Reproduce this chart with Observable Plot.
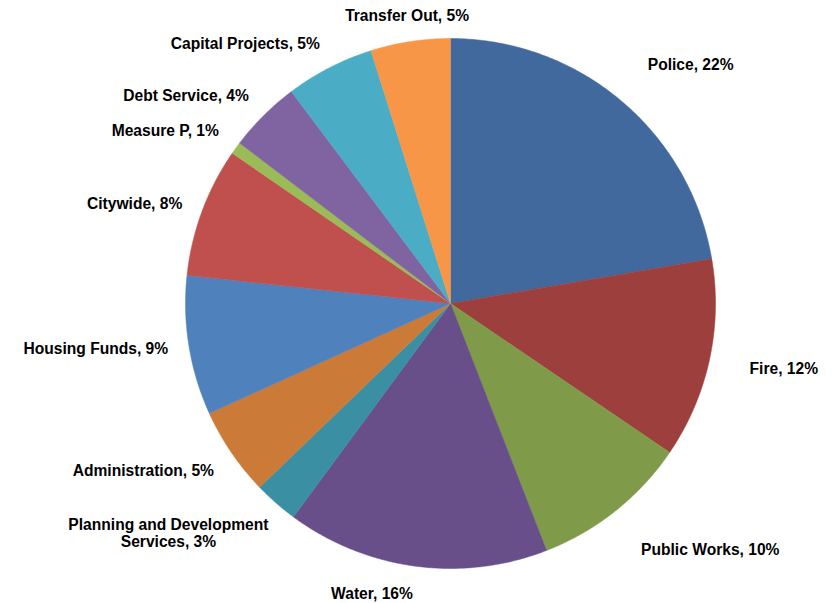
<!DOCTYPE html>
<html>
<head>
<meta charset="utf-8">
<script src="https://cdn.jsdelivr.net/npm/d3@7"></script>
<script src="https://cdn.jsdelivr.net/npm/@observablehq/plot@0.6"></script>
<style>
  html, body { margin: 0; padding: 0; background: #ffffff; overflow: hidden; }
  #chart svg { display: block; }
</style>
</head>
<body>
<div id="chart"></div>
<script>
// ---- Data ----
const categories = [
  "Police", "Fire", "Public Works", "Water",
  "Planning and Development Services", "Administration", "Housing Funds",
  "Citywide", "Measure P", "Debt Service", "Capital Projects", "Transfer Out"
];
const shares = [22.3, 12.2, 9.6, 16.0, 2.7, 5.4, 8.5, 7.9, 0.75, 4.4, 5.4, 4.85];
const colors = [
  "#41699d", "#9d403d", "#7f9b49", "#684f89",
  "#3a8fa2", "#cc7a37", "#4f81bd", "#c0504d",
  "#9bbb59", "#8064a2", "#4bacc6", "#f79646"
];

// ---- Layout constants ----
const W = 832, H = 603;
const cx = 450, cy = 303, r = 265;
const fontSize = 15.6;
const labelRadiusRight = 306, labelRadiusLeft = 286;

const total = d3.sum(shares);
const arcs = d3.pie().sort(null).value(d => d)(shares);

// polygon outline of each slice, in units of the radius
const slicePts = [];
arcs.forEach((a, i) => {
  const cat = categories[i];
  slicePts.push({cat, x: 0, y: 0});
  const n = Math.max(2, Math.ceil((a.endAngle - a.startAngle) / (Math.PI / 360)));
  for (let k = 0; k <= n; k++) {
    const t = a.startAngle + (a.endAngle - a.startAngle) * k / n;
    slicePts.push({cat, x: Math.sin(t), y: Math.cos(t)});
  }
  slicePts.push({cat, x: 0, y: 0});
});

function wrap(text, maxChars) {
  if (text.length <= maxChars) return text;
  const words = text.split(" ");
  const lines = [];
  let cur = "";
  for (const w of words) {
    if (cur && (cur + " " + w).length > maxChars) { lines.push(cur); cur = w; }
    else cur = cur ? cur + " " + w : w;
  }
  if (cur) lines.push(cur);
  return lines.join("\n");
}

const labels = arcs.map((a, i) => {
  const m = (a.startAngle + a.endAngle) / 2;
  const s = Math.sin(m), c = Math.cos(m);
  const R = (s > 0 ? labelRadiusRight : labelRadiusLeft) / r;
  const pct = Math.round(+(shares[i] / total * 100).toFixed(6));
  const text = wrap(`${categories[i]}, ${pct}%`, 26);
  let anchor = (Math.abs(s) < 0.2 && c > 0) ? "middle" : (s > 0 ? "start" : "end");
  const v = c > 0.5 ? "bottom" : (c < -0.5 ? "top" : "middle");
  let x = R * s, y = R * c;
  const lines = text.split("\n");
  if (lines.length > 1 && anchor !== "middle") {
    const hw = d3.max(lines, l => l.length) * 0.5 * fontSize / 2 / r;
    x += anchor === "start" ? hw : -hw;
    anchor = "middle";
  }
  return {x, y, text, anchor, v};
});

const textMarks = [];
for (const ta of ["start", "middle", "end"]) {
  for (const la of ["top", "middle", "bottom"]) {
    const subset = labels.filter(d => d.anchor === ta && d.v === la);
    if (!subset.length) continue;
    textMarks.push(Plot.text(subset, {
      x: "x", y: "y", text: "text",
      textAnchor: ta, lineAnchor: la,
      fontSize, fontWeight: "bold", fill: "#000000",
      fontFamily: "'Liberation Sans', Arial, sans-serif",
      lineHeight: 1.05
    }));
  }
}

const chart = Plot.plot({
  width: W,
  height: H,
  margin: 0,
  x: {domain: [-cx / r, (W - cx) / r], axis: null},
  y: {domain: [-(H - cy) / r, cy / r], axis: null},
  color: {domain: categories, range: colors},
  style: {background: "#ffffff", overflow: "visible"},
  marks: [
    Plot.line(slicePts, {x: "x", y: "y", z: "cat", fill: "cat", stroke: "cat", strokeWidth: 0.5}),
    ...textMarks
  ]
});
document.getElementById("chart").appendChild(chart);
</script>
</body>
</html>
